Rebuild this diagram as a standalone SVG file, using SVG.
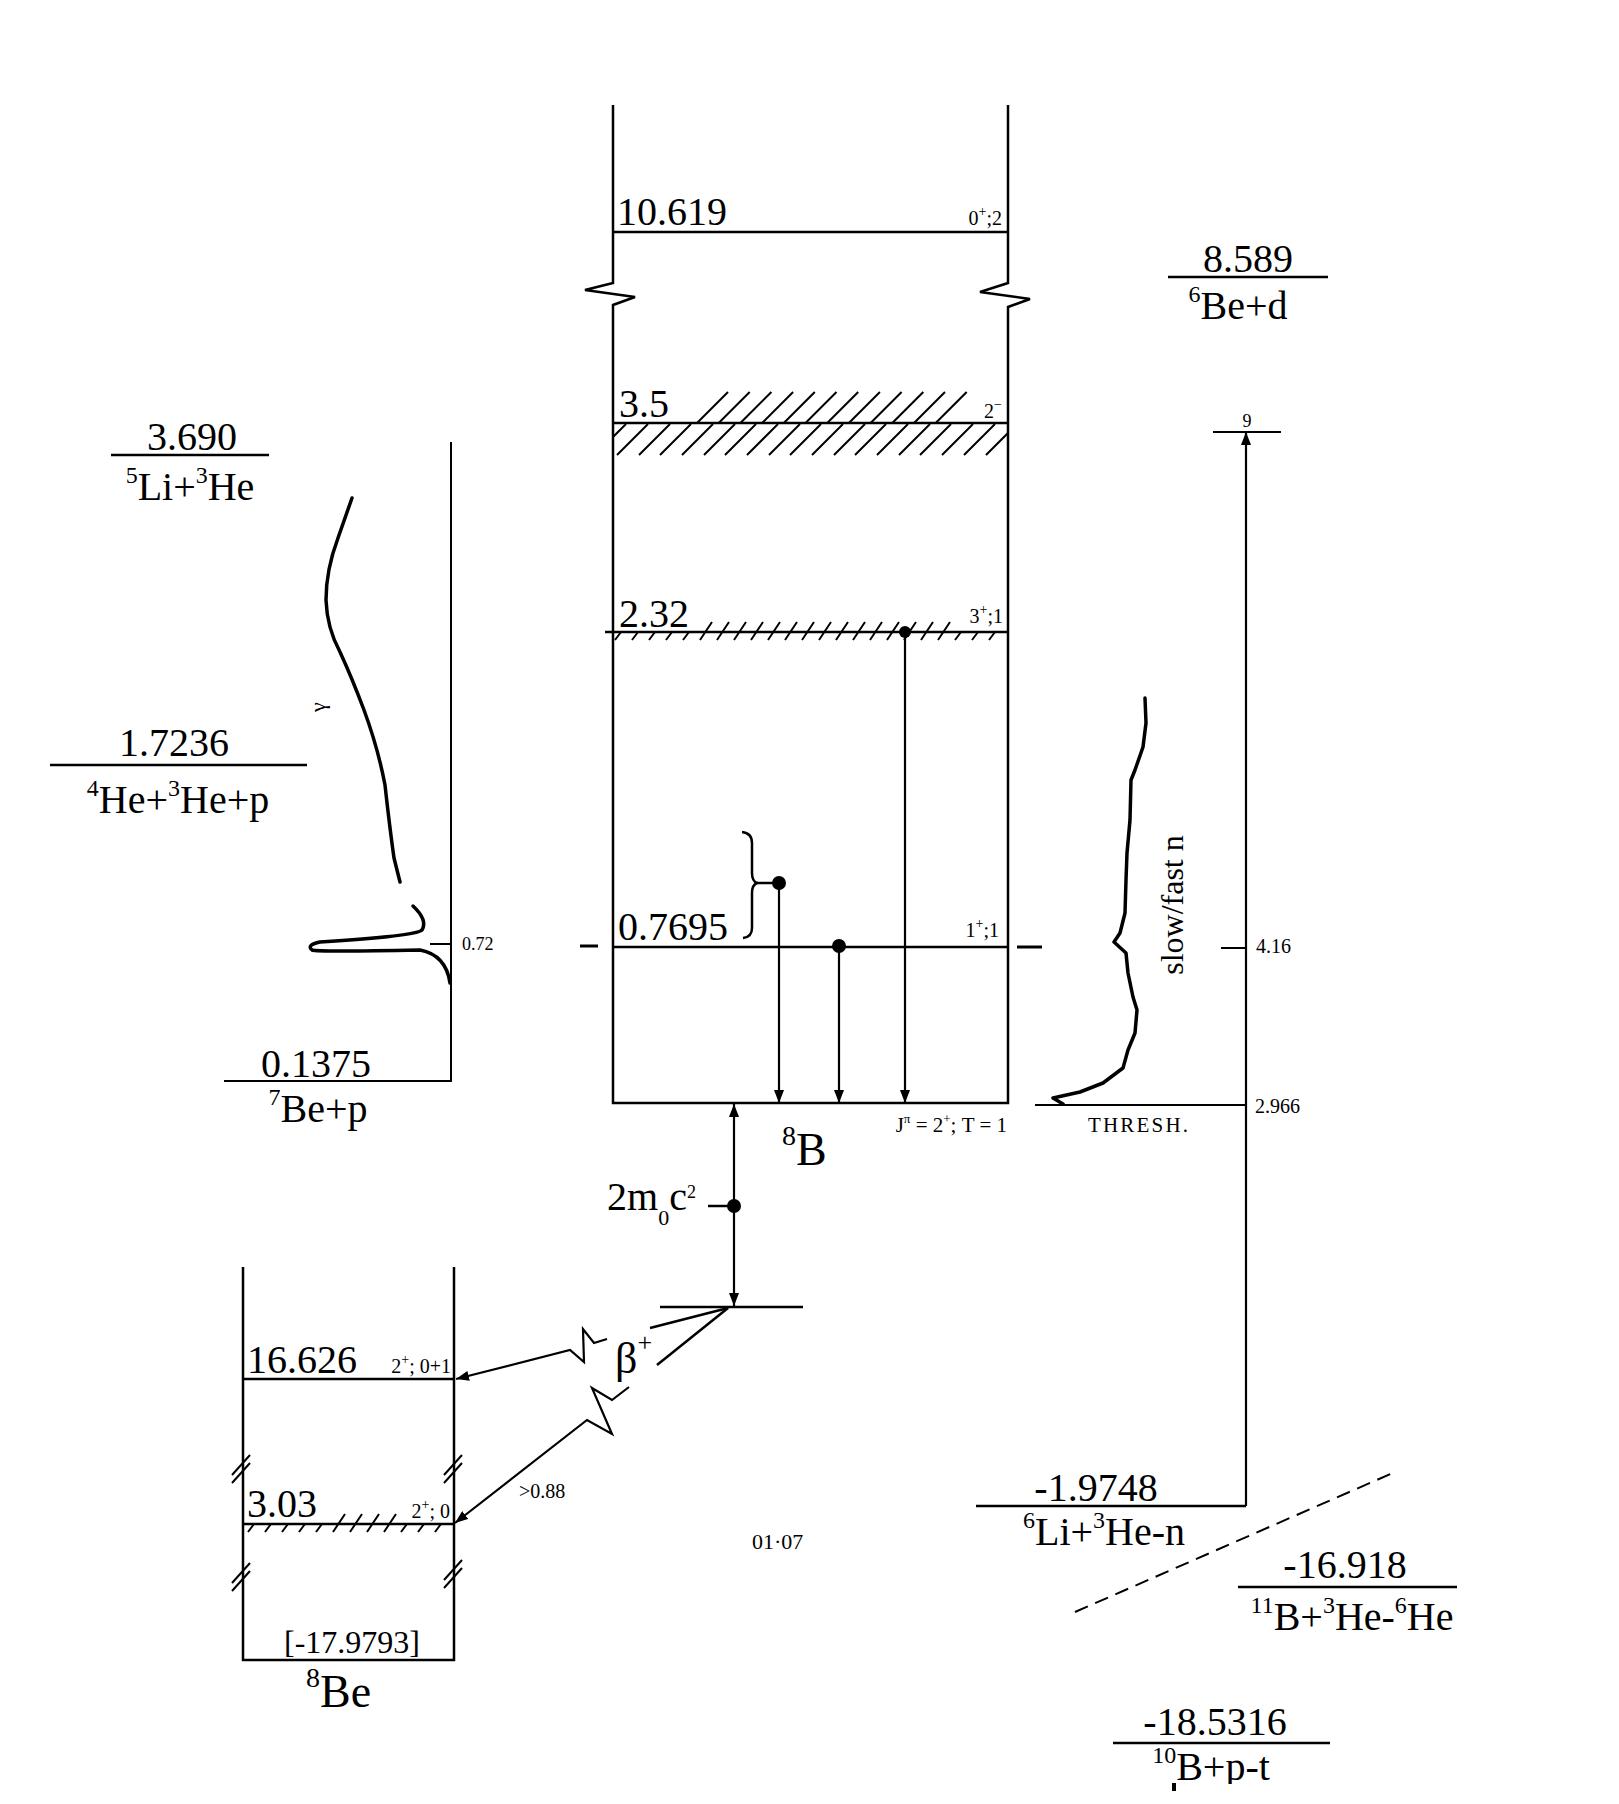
<svg xmlns="http://www.w3.org/2000/svg" width="1619" height="1804" viewBox="0 0 1619 1804">
<style>
  text { font-family: "Liberation Serif", "Times New Roman", serif; fill: #000; }
  .big { font-size: 40px; }
  .sm { font-size: 20px; }
  .ln { stroke: #000; stroke-width: 2.5; fill: none; }
  .thin { stroke: #000; stroke-width: 2; fill: none; }
  .curve { stroke: #000; stroke-width: 3.5; fill: none; stroke-linejoin: round; stroke-linecap: round; }
  .hatch { stroke: #000; stroke-width: 2; fill: none; }
  .arr { stroke: #000; stroke-width: 2.2; fill: none; marker-end: url(#ah); }
</style>
<defs>
  <marker id="ah" viewBox="0 0 13 10" refX="13" refY="5" markerWidth="13" markerHeight="10" markerUnits="userSpaceOnUse" orient="auto">
    <path d="M0,0 L13,5 L0,10 z" fill="#000"/>
  </marker>
  <marker id="ahs" viewBox="0 0 13 10" refX="13" refY="5" markerWidth="13" markerHeight="10" markerUnits="userSpaceOnUse" orient="auto-start-reverse">
    <path d="M0,0 L13,5 L0,10 z" fill="#000"/>
  </marker>
  <clipPath id="below35"><rect x="613" y="424" width="395" height="32"/></clipPath>
</defs>
<rect width="1619" height="1804" fill="#fff"/>

<!-- 8B nucleus -->
<g id="node-8B">
  <path class="ln" d="M613,105 V283 L585,290 L635,297 L613,305 V1103 H1008 V307 L1030,299 L980,292 L1008,283 V105"/>
  <line class="ln" x1="613" y1="232" x2="1008" y2="232"/>
  <text class="big" x="617" y="225">10.619</text>
  <text class="sm" x="1002" y="225" text-anchor="end">0<tspan font-size="14" dy="-9">+</tspan><tspan dy="9">;2</tspan></text>

  <line class="ln" x1="613" y1="423" x2="1008" y2="423"/>
  <path class="hatch" d="M697,423 L728,392 M718.7,423 L749.7,392 M740.4,423 L771.4,392 M762.1,423 L793.1,392 M783.8,423 L814.8,392 M805.5,423 L836.5,392 M827.2,423 L858.2,392 M848.9,423 L879.9,392 M870.6,423 L901.6,392 M892.3,423 L923.3,392 M914,423 L945,392 M935.7,423 L966.7,392"/>
  <path class="hatch" clip-path="url(#below35)" d="M595,455 L626,424 M617,455 L648,424 M639,455 L670,424 M660,455 L691,424 M682,455 L713,424 M704,455 L735,424 M725,455 L756,424 M747,455 L778,424 M769,455 L800,424 M790,455 L821,424 M812,455 L843,424 M834,455 L865,424 M855,455 L886,424 M877,455 L908,424 M899,455 L930,424 M920,455 L951,424 M942,455 L973,424 M964,455 L995,424 M986,455 L1017,424"/>
  <text class="big" x="619" y="417">3.5</text>
  <text class="sm" x="1002" y="418" text-anchor="end">2<tspan font-size="14" dy="-9">−</tspan></text>

  <line class="ln" x1="605" y1="632" x2="1008" y2="632"/>
  <path class="hatch" d="M615,640 L621,632 M632,640 L638,632 M649,640 L655,632 M666,640 L672,632 M683,640 L689,632 M700,640 L712,622 M717,640 L729,622 M734,640 L746,622 M751,640 L763,622 M768,640 L780,622 M785,640 L797,622 M802,640 L814,622 M819,640 L831,622 M836,640 L848,622 M853,640 L865,622 M870,640 L882,622 M887,640 L899,622 M904,640 L916,622 M921,640 L933,622 M938,640 L950,622 M955,640 L961,632 M972,640 L978,632 M989,640 L995,632"/>
  <text class="big" x="619" y="627">2.32</text>
  <text class="sm" x="1003" y="623" text-anchor="end">3<tspan font-size="14" dy="-9">+</tspan><tspan dy="9">;1</tspan></text>

  <line class="ln" x1="613" y1="947" x2="1008" y2="947"/>
  <line x1="580" y1="946" x2="598" y2="946" stroke="#000" stroke-width="3"/>
  <line x1="1017" y1="947" x2="1042" y2="947" stroke="#000" stroke-width="3"/>
  <text class="big" x="618" y="940">0.7695</text>
  <text class="sm" x="999" y="937" text-anchor="end">1<tspan font-size="14" dy="-9">+</tspan><tspan dy="9">;1</tspan></text>
  <path class="ln" d="M742,832 Q752,833 752,843 V873 Q752,881 757,883 Q752,885 752,893 V928 Q752,937 743,938"/>
  <line class="ln" x1="757" y1="883" x2="779" y2="883"/>

  <text x="1007" y="1132" font-size="21" text-anchor="end">J<tspan font-size="13" dy="-9">π</tspan><tspan dy="9"> = 2</tspan><tspan font-size="13" dy="-9">+</tspan><tspan dy="9">; T = 1</tspan></text>
  <text x="782" y="1165" font-size="46"><tspan font-size="28" dy="-20">8</tspan><tspan dy="20">B</tspan></text>
</g>

<!-- 8Be nucleus -->
<g id="node-8Be">
  <path class="ln" d="M243,1267 V1660 H454 V1267"/>
  <line class="ln" x1="243" y1="1379" x2="454" y2="1379"/>
  <text class="big" x="247" y="1373">16.626</text>
  <text class="sm" x="451" y="1373" text-anchor="end">2<tspan font-size="14" dy="-9">+</tspan><tspan dy="9">; 0+1</tspan></text>
  <line class="ln" x1="243" y1="1524" x2="454" y2="1524"/>
  <path class="hatch" d="M248,1532 L254,1524 M265,1532 L271,1524 M282,1532 L288,1524 M299,1532 L305,1524 M316,1532 L322,1524 M333,1532 L345,1514 M350,1532 L362,1514 M367,1532 L379,1514 M384,1532 L396,1514 M401,1532 L407,1524 M418,1532 L424,1524 M435,1532 L441,1524"/>
  <text class="big" x="247" y="1517">3.03</text>
  <text class="sm" x="450" y="1518" text-anchor="end">2<tspan font-size="14" dy="-9">+</tspan><tspan dy="9">; 0</tspan></text>
  <path class="thin" d="M232,1475 L250,1455 M232,1483 L250,1463 M232,1583 L250,1563 M232,1591 L250,1571 M444,1475 L462,1455 M444,1483 L462,1463 M444,1580 L462,1560 M444,1588 L462,1568"/>
  <text x="352" y="1653" font-size="32" text-anchor="middle">[-17.9793]</text>
  <text x="306" y="1707" font-size="46"><tspan font-size="28" dy="-20">8</tspan><tspan dy="20">Be</tspan></text>
</g>

<!-- Left thresholds -->
<g id="node-5Li3He">
  <line class="ln" x1="111" y1="455" x2="269" y2="455"/>
  <text class="big" x="192" y="450" text-anchor="middle">3.690</text>
  <text class="big" x="190" y="500" text-anchor="middle"><tspan font-size="24" dy="-17">5</tspan><tspan dy="17">Li+</tspan><tspan font-size="24" dy="-17">3</tspan><tspan dy="17">He</tspan></text>
</g>
<g id="node-4He3Hep">
  <line class="ln" x1="50" y1="765" x2="307" y2="765"/>
  <text class="big" x="174" y="756" text-anchor="middle">1.7236</text>
  <text class="big" x="178" y="813" text-anchor="middle"><tspan font-size="24" dy="-17">4</tspan><tspan dy="17">He+</tspan><tspan font-size="24" dy="-17">3</tspan><tspan dy="17">He+p</tspan></text>
</g>
<g id="node-7Bep">
  <path class="thin" d="M451,442 V1081 H224"/>
  <text class="big" x="316" y="1077" text-anchor="middle">0.1375</text>
  <text class="big" x="318" y="1122" text-anchor="middle"><tspan font-size="24" dy="-17">7</tspan><tspan dy="17">Be+p</tspan></text>
  <line class="thin" x1="430" y1="944" x2="451" y2="944"/>
  <text x="462" y="950" font-size="18">0.72</text>
</g>
<g id="node-gamma-spectrum">
  <path class="curve" d="M352,498 L338,538 Q326,570 326,600 Q327,628 340,652 Q352,678 364,710 Q378,748 385,785 Q390,830 394,858 L400,882"/>
  <path class="curve" d="M413,906 Q428,920 422,930 Q416,936 320,942 Q306,945 312,950 Q318,952 420,950 Q446,955 450,983"/>
  <text x="325" y="707" font-size="22" text-anchor="middle" transform="rotate(-90 325 707)">γ</text>
</g>

<!-- Right thresholds -->
<g id="node-6Bed">
  <line class="ln" x1="1168" y1="277" x2="1328" y2="277"/>
  <text class="big" x="1248" y="272" text-anchor="middle">8.589</text>
  <text class="big" x="1238" y="319" text-anchor="middle"><tspan font-size="24" dy="-17">6</tspan><tspan dy="17">Be+d</tspan></text>
</g>
<g id="node-6Li3Hen">
  <line class="ln" x1="976" y1="1506" x2="1246" y2="1506"/>
  <text class="big" x="1096" y="1501" text-anchor="middle">-1.9748</text>
  <text class="big" x="1104" y="1545" text-anchor="middle"><tspan font-size="24" dy="-17">6</tspan><tspan dy="17">Li+</tspan><tspan font-size="24" dy="-17">3</tspan><tspan dy="17">He-n</tspan></text>
  <line class="thin" x1="1213" y1="432" x2="1281" y2="432"/>
  <text x="1247" y="427" font-size="18" text-anchor="middle">9</text>
  <line class="thin" x1="1221" y1="948" x2="1246" y2="948"/>
  <text class="sm" x="1256" y="953">4.16</text>
  <line class="thin" x1="1035" y1="1105" x2="1246" y2="1105"/>
  <text class="sm" x="1255" y="1113">2.966</text>
  <text x="1088" y="1132" font-size="21" textLength="100" lengthAdjust="spacing">THRESH.</text>
  <text x="1183" y="905" font-size="32" text-anchor="middle" transform="rotate(-90 1183 905)">slow/fast n</text>
</g>
<g id="node-neutron-spectrum">
  <path class="curve" d="M1145,698 L1146,723 L1143,747 L1135,770 L1131,780 L1130,820 L1127,853 L1126,880 L1125,913 L1120,933 L1114,942 L1126,953 L1128,973 L1133,997 L1137,1010 L1135,1033 L1128,1050 L1123,1068 L1103,1083 L1080,1092 L1053,1098 L1063,1104"/>
</g>
<g id="node-11B3He6He">
  <line class="ln" x1="1238" y1="1587" x2="1457" y2="1587"/>
  <text class="big" x="1345" y="1578" text-anchor="middle">-16.918</text>
  <text class="big" x="1352" y="1630" text-anchor="middle"><tspan font-size="24" dy="-17">11</tspan><tspan dy="17">B+</tspan><tspan font-size="24" dy="-17">3</tspan><tspan dy="17">He-</tspan><tspan font-size="24" dy="-17">6</tspan><tspan dy="17">He</tspan></text>
</g>
<g id="node-10Bpt">
  <line class="ln" x1="1113" y1="1743" x2="1330" y2="1743"/>
  <text class="big" x="1215" y="1735" text-anchor="middle">-18.5316</text>
  <text class="big" x="1211" y="1780" text-anchor="middle"><tspan font-size="24" dy="-17">10</tspan><tspan dy="17">B+p-t</tspan></text>
</g>

<!-- Connectors -->
<g id="connectors">
  <line class="arr" x1="779" y1="883" x2="779" y2="1103"/>
  <line class="arr" x1="839" y1="946" x2="839" y2="1103"/>
  <line class="arr" x1="905" y1="632" x2="905" y2="1103"/>
  <circle cx="779" cy="883" r="7" fill="#000"/>
  <circle cx="839" cy="946" r="7" fill="#000"/>
  <circle cx="905" cy="632" r="6" fill="#000"/>

  <line x1="734" y1="1104" x2="734" y2="1306" stroke="#000" stroke-width="2.2" marker-start="url(#ahs)" marker-end="url(#ah)"/>
  <circle cx="734" cy="1206" r="7" fill="#000"/>
  <line class="ln" x1="708" y1="1206" x2="734" y2="1206"/>
  <line class="ln" x1="660" y1="1307" x2="803" y2="1307"/>

  <line class="ln" x1="728" y1="1308" x2="650" y2="1328"/>
  <polyline class="arr" points="607,1339 594,1343 583,1329 584,1362 570,1350 456,1379"/>
  <line class="ln" x1="728" y1="1308" x2="657" y2="1365"/>
  <polyline class="arr" points="629,1387 612,1400 592,1388 612,1434 587,1420 455,1523"/>

  <line class="arr" x1="1246" y1="1506" x2="1246" y2="432"/>
  <line x1="1075" y1="1612" x2="1395" y2="1472" stroke="#000" stroke-width="2" stroke-dasharray="14,8"/>
</g>

<g id="labels">
  <text x="607" y="1210" font-size="40">2m<tspan font-size="22" dy="15">0</tspan><tspan dy="-15">c</tspan><tspan font-size="18" dy="-12">2</tspan></text>
  <text x="615" y="1373" font-size="44">β<tspan font-size="26" dy="-22">+</tspan></text>
  <text class="sm" x="519" y="1498">&gt;0.88</text>
  <text x="752" y="1549" font-size="22">01·07</text>
</g>
<rect x="0" y="1784" width="1619" height="20" fill="#fff"/>
<rect x="1172" y="1783" width="4" height="8" fill="#000"/>
</svg>
